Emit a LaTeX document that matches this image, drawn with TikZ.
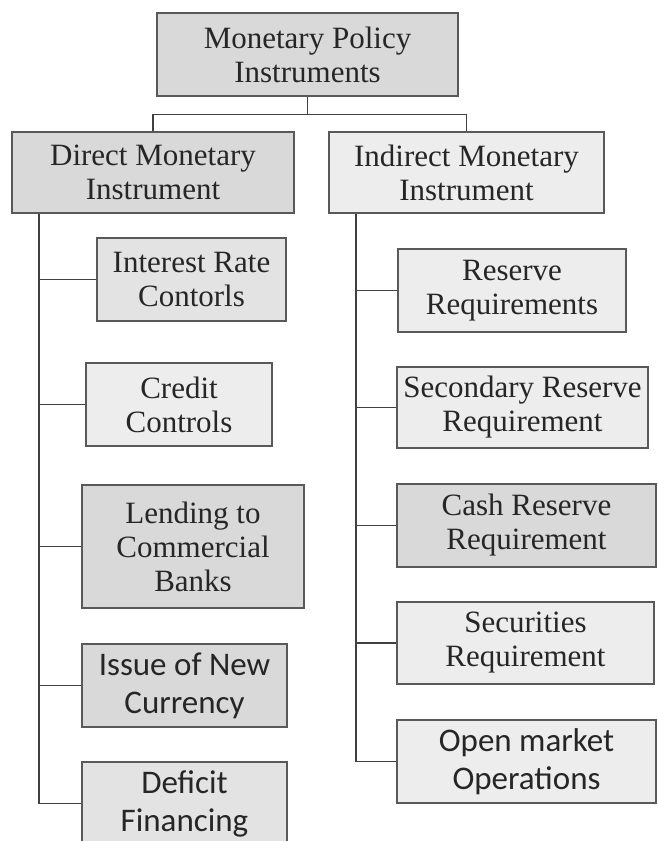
\documentclass[tikz,border=0pt]{standalone}
\usepackage{fontspec}
\setmainfont{Liberation Serif}
\newfontfamily\calibrifont{Carlito}
\begin{document}
\begin{tikzpicture}[x=1pt,y=-1pt,
  box/.style={draw=black!65, line width=1.1pt, align=center, inner sep=0pt,
    text=black!85, font=\fontsize{31}{34}\selectfont},
  sansbox/.style={box, font=\calibrifont\fontsize{33}{38}\selectfont},
  dark/.style={fill=black!15},
  mid/.style={fill=black!11},
  light/.style={fill=black!7},
  link/.style={draw=black!75, line width=1.4pt}]
\useasboundingbox[fill=white] (0,0) rectangle (658,841);

% top level
\node[box,dark,minimum width=301pt,minimum height=83pt] (top) at (307.5,54.5)
  {Monetary Policy\\Instruments};

% second level
\node[box,dark,minimum width=282pt,minimum height=81pt] (direct) at (153,172.5)
  {Direct Monetary\\Instrument};
\node[box,light,minimum width=275pt,minimum height=81pt] (indirect) at (466.5,172.5)
  {Indirect Monetary\\Instrument};

% direct instruments
\node[box,mid,minimum width=189pt,minimum height=83pt] (interest) at (191.5,279.5)
  {Interest Rate\\Contorls};
\node[box,light,minimum width=186pt,minimum height=83pt] (credit) at (179,404.5)
  {Credit\\Controls};
\node[box,dark,minimum width=222pt,minimum height=123pt] (lending) at (193,546.5)
  {Lending to\\Commercial\\Banks};
\node[sansbox,dark,minimum width=205pt,minimum height=83pt] (issue) at (184.5,685.5)
  {Issue of New\\Currency};
\node[sansbox,mid,minimum width=205pt,minimum height=83pt] (deficit) at (184.5,803.5)
  {Deficit\\Financing};

% indirect instruments
\node[box,light,minimum width=228pt,minimum height=83pt] (reserve) at (512,290.5)
  {Reserve\\Requirements};
\node[box,light,minimum width=251pt,minimum height=81pt] (secondary) at (522.5,407.5)
  {Secondary Reserve\\Requirement};
\node[box,dark,minimum width=259pt,minimum height=83pt] (cash) at (526.5,525.5)
  {Cash Reserve\\Requirement};
\node[box,light,minimum width=257pt,minimum height=82pt] (securities) at (525.5,643)
  {Securities\\Requirement};
\node[sansbox,light,minimum width=259pt,minimum height=83pt] (open) at (526.5,761.5)
  {Open market\\Operations};

% trunk positions
\coordinate (ltrunk) at (39,0);
\coordinate (rtrunk) at (356,0);

% links from the top box
\draw[link] (top.south) -- ++(0,18) -| (direct.north);
\draw[link] (top.south) -- ++(0,18) -| (indirect.north);

% left trunk and branches
\draw[link] (ltrunk |- direct.south) -- (ltrunk |- deficit.west);
\foreach \n in {interest,credit,lending,issue,deficit}
  \draw[link] (ltrunk |- \n.west) -- (\n.west);

% right trunk and branches
\draw[link] (rtrunk |- indirect.south) -- (rtrunk |- open.west);
\foreach \n in {reserve,secondary,cash,securities,open}
  \draw[link] (rtrunk |- \n.west) -- (\n.west);
\end{tikzpicture}
\end{document}
